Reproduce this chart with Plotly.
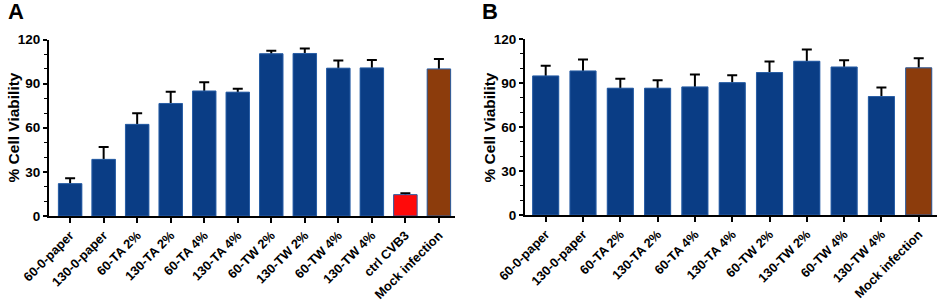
import plotly.graph_objects as go

# ---- data ----
cats_a = ["60-0-paper", "130-0-paper", "60-TA 2%", "130-TA 2%", "60-TA 4%", "130-TA 4%",
          "60-TW 2%", "130-TW 2%", "60-TW 4%", "130-TW 4%", "ctrl CVB3", "Mock infection"]
vals_a = [22.0, 38.5, 62.3, 76.5, 85.0, 84.2, 110.3, 110.5, 100.5, 100.7, 14.5, 100.0]
errs_a = [3.7, 8.4, 7.5, 8.0, 5.9, 2.3, 2.0, 3.4, 5.2, 5.3, 0.9, 6.8]

cats_b = ["60-0-paper", "130-0-paper", "60-TA 2%", "130-TA 2%", "60-TA 4%", "130-TA 4%",
          "60-TW 2%", "130-TW 2%", "60-TW 4%", "130-TW 4%", "Mock infection"]
vals_b = [95.0, 98.4, 86.6, 86.6, 87.5, 90.4, 97.3, 105.0, 101.1, 80.9, 100.5]
errs_b = [7.0, 7.8, 6.4, 5.5, 8.4, 5.0, 7.5, 8.0, 4.6, 6.1, 6.6]

y_ticks = [0, 30, 60, 90, 120]

BLUE = "#0a3d85"
RED = "#ff0a0a"
BROWN = "#8c3c0c"

def colors_for(cats):
    out = []
    for c in cats:
        if c == "ctrl CVB3":
            out.append(RED)
        elif c == "Mock infection":
            out.append(BROWN)
        else:
            out.append(BLUE)
    return out

fig = go.Figure()

def add_panel(cats, vals, errs, xa, ya):
    cols = colors_for(cats)
    fig.add_trace(go.Bar(
        x=cats, y=vals, xaxis=xa, yaxis=ya, marker=dict(color=cols, line=dict(width=0)),
        error_y=dict(type="data", array=errs, visible=True, color="black", thickness=2, width=5),
        showlegend=False, hoverinfo="skip"))
    fig.add_trace(go.Bar(
        x=cats, y=vals, xaxis=xa, yaxis=ya,
        marker=dict(color=cols, line=dict(width=1, color="#2a5fa6")),
        showlegend=False))

add_panel(cats_a, vals_a, errs_a, "x", "y")
add_panel(cats_b, vals_b, errs_b, "x2", "y2")

W, H = 948, 303
FAM = "Arial, Liberation Sans, sans-serif"

def px_x(v):
    return v / W

def px_y(v):  # v measured from top of page
    return 1 - v / H

xcommon = dict(type="category", showline=True, linecolor="black", linewidth=2,
               ticks="outside", ticklen=5, tickwidth=1.5, tickcolor="black",
               tickangle=-45, tickfont=dict(family=FAM, size=12.8, color="black", weight="bold"),
               showgrid=False, zeroline=False, automargin=False)
ycommon = dict(range=[0, 120], tickvals=y_ticks, showline=True, linecolor="black", linewidth=2,
               ticks="outside", ticklen=4, tickwidth=1.5, tickcolor="black",
               tickfont=dict(family=FAM, size=13.5, color="black", weight="bold"),
               showgrid=False, zeroline=False, automargin=False,
               minor=dict(dtick=10, ticks="outside", ticklen=3, tickwidth=1, tickcolor="black"))

fig.update_layout(
    width=W, height=H, margin=dict(l=0, r=0, t=0, b=0, autoexpand=False),
    paper_bgcolor="white", plot_bgcolor="white",
    barmode="overlay", bargap=0.3,
    xaxis=dict(xcommon, domain=[px_x(49), px_x(455)], range=[-0.63, 11.48], anchor="y"),
    yaxis=dict(ycommon, domain=[px_y(216), px_y(39.5)], anchor="x"),
    xaxis2=dict(xcommon, domain=[px_x(525), px_x(937)], range=[-0.555, 10.49], anchor="y2"),
    yaxis2=dict(ycommon, domain=[px_y(215), px_y(39.3)], anchor="x2"),
)

ann = []
for lab, xl in (("A", 6), ("B", 480)):
    ann.append(dict(text="<b>%s</b>" % lab, x=px_x(xl), y=px_y(-3), xref="paper", yref="paper",
                    xanchor="left", yanchor="top", showarrow=False,
                    font=dict(family=FAM, size=22, color="black")))
for xc in (13, 489):
    ann.append(dict(text="<b>% Cell Viability</b>", x=px_x(xc), y=px_y(127.5), xref="paper", yref="paper",
                    xanchor="center", yanchor="middle", textangle=-90, showarrow=False,
                    font=dict(family=FAM, size=15.5, color="black")))
fig.update_layout(annotations=ann)

fig.write_html("out.html", config={"displayModeBar": False},
               post_script="document.body.style.margin='0px';")
